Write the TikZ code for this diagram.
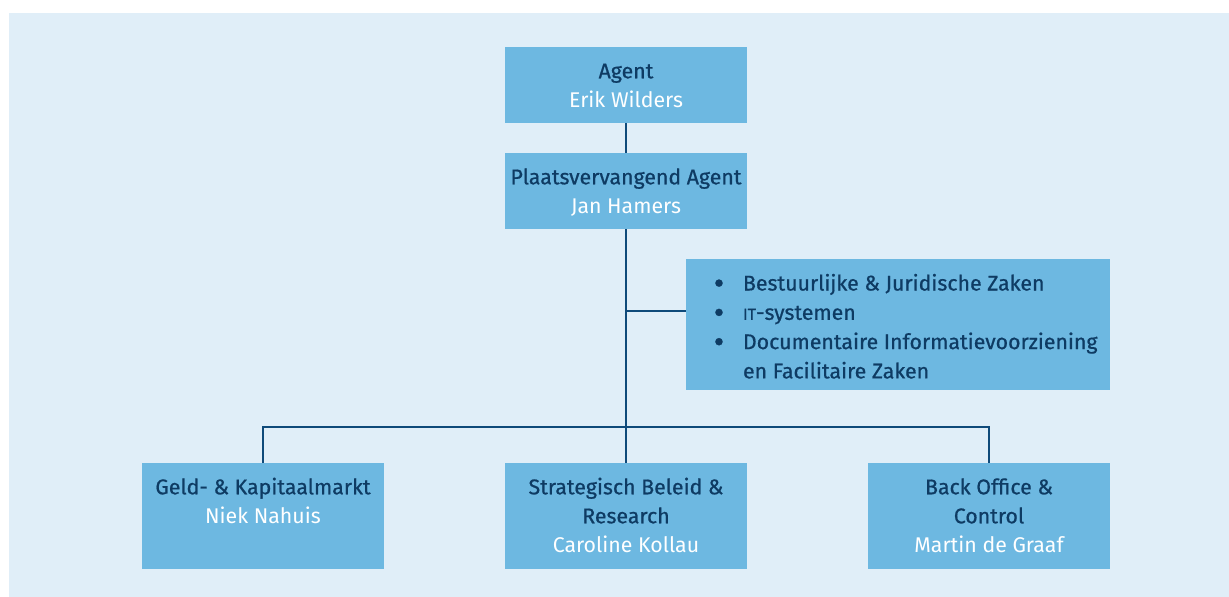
\documentclass[tikz,border=0pt]{standalone}
\usepackage{fontspec}
\setmainfont{Fira Sans}
\newfontfamily\ttlfont[FakeBold=0.7]{Fira Sans}
\definecolor{bgc}{HTML}{E0EEF8}
\definecolor{boxc}{HTML}{6DB8E1}
\definecolor{linec}{HTML}{0F4A7A}
\definecolor{titlec}{HTML}{0E3B63}
\newcommand\orgtext[3]{\parbox[c][#1][t]{242pt}{\vspace*{11pt}\centering\fontsize{21.3}{29}\selectfont\color{titlec}\strut{\ttlfont #2}\\ \color{white}#3\strut}}
\newcommand\bul{\hspace*{33pt}\makebox[0pt]{\raisebox{-3.5pt}{\scalebox{1.5}{•}}}\hspace*{24pt}}
\tikzset{
  orgbox/.style={fill=boxc, draw=none, inner sep=0pt, outer sep=0pt, anchor=north west},
  conn/.style={draw=linec, line width=2.5pt}
}
\begin{document}
\begin{tikzpicture}[x=1pt,y=-1pt]
\useasboundingbox (0,0) rectangle (1229,597);
\fill[bgc] (9,13) rectangle (1229,597);
\node[orgbox] (agent) at (505,47) {\orgtext{76pt}{Agent}{Erik Wilders}};
\node[orgbox] (plv) at (505,153) {\orgtext{76pt}{Plaatsvervangend Agent}{Jan Hamers}};
\node[orgbox] (staff) at (686,259) {\parbox[c][131pt][t]{424pt}{\vspace*{11pt}\raggedright\fontsize{21.3}{29.3}\selectfont\ttlfont\color{titlec}\strut\bul Bestuurlijke \& Juridische Zaken\\
\bul{\fontsize{16}{16}\selectfont IT}-systemen\\
\bul Documentaire Informatievoorziening\\
\hspace*{57pt}en Facilitaire Zaken\strut}};
\node[orgbox] (geld) at (142,463) {\orgtext{106pt}{Geld- \& Kapitaalmarkt}{Niek Nahuis}};
\node[orgbox] (strat) at (505,463) {\orgtext{106pt}{Strategisch Beleid \&\\ Research}{Caroline Kollau}};
\node[orgbox] (back) at (868,463) {\orgtext{106pt}{Back Office \&\\ Control}{Martin de Graaf}};
\coordinate (sj) at (626,311);
\draw[conn] (agent.south) -- (plv.north);
\draw[conn] (plv.south) -- (strat.north);
\draw[conn] (sj) -- (sj -| staff.west);
\draw[conn] (geld.north) -- ++(0,-36) -| (back.north);
\end{tikzpicture}
\end{document}
